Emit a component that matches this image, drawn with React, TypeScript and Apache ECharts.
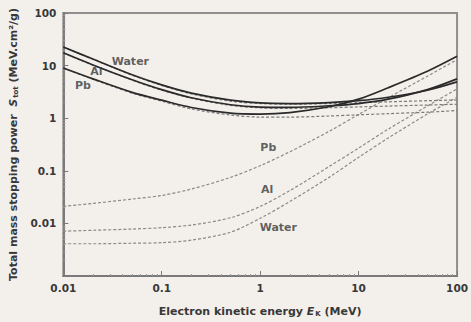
import React, { useEffect, useRef } from "react";
import * as echarts from "echarts";

const energies = [0.01, 0.02, 0.05, 0.1, 0.2, 0.5, 1, 2, 5, 10, 20, 50, 100];

const waterTotal = [22.6, 13.3, 6.7, 4.3, 3.0, 2.2, 1.95, 1.9, 1.98, 2.15, 2.5, 3.4, 4.9];
const alTotal = [17.5, 10.3, 5.4, 3.5, 2.45, 1.8, 1.62, 1.6, 1.72, 1.9, 2.3, 3.5, 5.6];
const pbTotal = [9.0, 5.6, 3.1, 2.2, 1.6, 1.25, 1.2, 1.28, 1.65, 2.3, 3.8, 7.8, 15.0];

const waterColl = [22.6, 13.2, 6.6, 4.2, 2.9, 2.1, 1.9, 1.85, 1.9, 1.98, 2.05, 2.15, 2.22];
const alColl = [17.4, 10.2, 5.3, 3.4, 2.4, 1.75, 1.57, 1.53, 1.58, 1.64, 1.7, 1.78, 1.84];
const pbColl = [8.9, 5.5, 3.0, 2.1, 1.5, 1.15, 1.05, 1.05, 1.1, 1.16, 1.22, 1.3, 1.4];

const waterRad = [0.0041, 0.0041, 0.0042, 0.0043, 0.0048, 0.0068, 0.0125, 0.026, 0.075, 0.18, 0.42, 1.2, 2.5];
const alRad = [0.0071, 0.0074, 0.0078, 0.0083, 0.0093, 0.0128, 0.021, 0.042, 0.12, 0.27, 0.62, 1.7, 3.6];
const pbRad = [0.021, 0.024, 0.029, 0.034, 0.045, 0.075, 0.125, 0.23, 0.56, 1.18, 2.45, 6.3, 13.0];

const curveLabels = [
  { name: "Water", value: [0.048, 11.8] },
  { name: "Al", value: [0.0217, 7.6] },
  { name: "Pb", value: [0.0158, 4.14] },
  { name: "Pb", value: [1.21, 0.277] },
  { name: "Al", value: [1.18, 0.0445] },
  { name: "Water", value: [1.53, 0.0085] },
];

const FONT = "DejaVu Sans";
const TXT = "#383838";

function pairs(arr: number[]) {
  return energies.map((e, i) => [e, arr[i]]);
}

function fmt(v: number) {
  if (v < 0.005) return "";
  if (v >= 1) return String(Math.round(v));
  return String(Number(v.toPrecision(1)));
}

export default function App() {
  const ref = useRef<HTMLDivElement>(null);
  useEffect(() => {
    if (!ref.current) return;
    const chart = echarts.init(ref.current, undefined, { renderer: "svg" });
    const solid = (d: number[]) => ({
      type: "line",
      data: pairs(d),
      smooth: 0.3,
      symbol: "none",
      lineStyle: { color: "#2a2a2a", width: 1.7 },
      z: 3,
    });
    const dashed = (d: number[], color: string) => ({
      type: "line",
      data: pairs(d),
      smooth: 0.3,
      symbol: "none",
      lineStyle: { color, width: 1.2, type: [3, 2] },
      z: 2,
    });
    const rich = {
      a: { fontSize: 11, fontWeight: "bold", color: TXT, fontFamily: FONT },
      i: { fontSize: 11, fontWeight: "bold", fontStyle: "italic", color: TXT, fontFamily: FONT },
      s: { fontSize: 7, fontWeight: "bold", color: TXT, fontFamily: FONT, padding: [5, 0, 0, 1] },
    };
    chart.setOption({
      animation: false,
      backgroundColor: "#f3f0ec",
      textStyle: { fontFamily: FONT },
      grid: {
        left: 59,
        right: 9,
        top: 13,
        bottom: 45,
        show: true,
        borderColor: "#8f8f8f",
        borderWidth: 2,
      },
      xAxis: {
        type: "log",
        logBase: 10,
        min: 0.01,
        max: 100,
        axisLine: { lineStyle: { color: "#7a7a7a", width: 2 } },
        axisTick: { inside: true, length: 5, lineStyle: { color: "#7a7a7a" } },
        minorTick: { show: true, splitNumber: 9, length: 2, lineStyle: { color: "#999" } },
        splitLine: { show: false },
        axisLabel: {
          formatter: (v: number) => fmt(v),
          color: TXT,
          fontWeight: "bold",
          fontSize: 10.5,
          fontFamily: FONT,
          margin: 6,
        },
        name: "{a|Electron kinetic energy }{i|E}{s|K}{a| (MeV)}",
        nameLocation: "middle",
        nameGap: 29,
        nameTextStyle: { rich },
      },
      yAxis: {
        type: "log",
        logBase: 10,
        min: 0.001,
        max: 100,
        axisLine: { lineStyle: { color: "#7a7a7a", width: 2 } },
        axisTick: { inside: true, length: 5, lineStyle: { color: "#7a7a7a" } },
        minorTick: { show: true, splitNumber: 9, length: 2, lineStyle: { color: "#999" } },
        splitLine: { show: false },
        axisLabel: {
          formatter: (v: number) => fmt(v),
          color: TXT,
          fontWeight: "bold",
          fontSize: 10.5,
          fontFamily: FONT,
          margin: 7,
        },
        name: "{a|Total mass stopping power  }{i|S}{s|tot}{a| (MeV.cm²/g)}",
        nameLocation: "middle",
        nameGap: 42,
        nameTextStyle: { rich },
      },
      series: [
        dashed(waterRad, "#8a8a8a"),
        dashed(alRad, "#8a8a8a"),
        dashed(pbRad, "#8a8a8a"),
        dashed(waterColl, "#7a7a7a"),
        dashed(alColl, "#7a7a7a"),
        dashed(pbColl, "#7a7a7a"),
        solid(waterTotal),
        solid(alTotal),
        solid(pbTotal),
        {
          type: "scatter",
          data: curveLabels,
          symbolSize: 1,
          itemStyle: { color: "rgba(0,0,0,0)" },
          z: 5,
          label: {
            show: true,
            position: "inside",
            formatter: (p: any) => p.name,
            color: TXT,
            fontWeight: "bold",
            fontSize: 11,
            fontFamily: FONT,
          },
        },
      ],
    });
    return () => chart.dispose();
  }, []);
  return (
    <div
      ref={ref}
      style={{ position: "fixed", left: 0, top: 0, width: 471, height: 322 }}
    />
  );
}
